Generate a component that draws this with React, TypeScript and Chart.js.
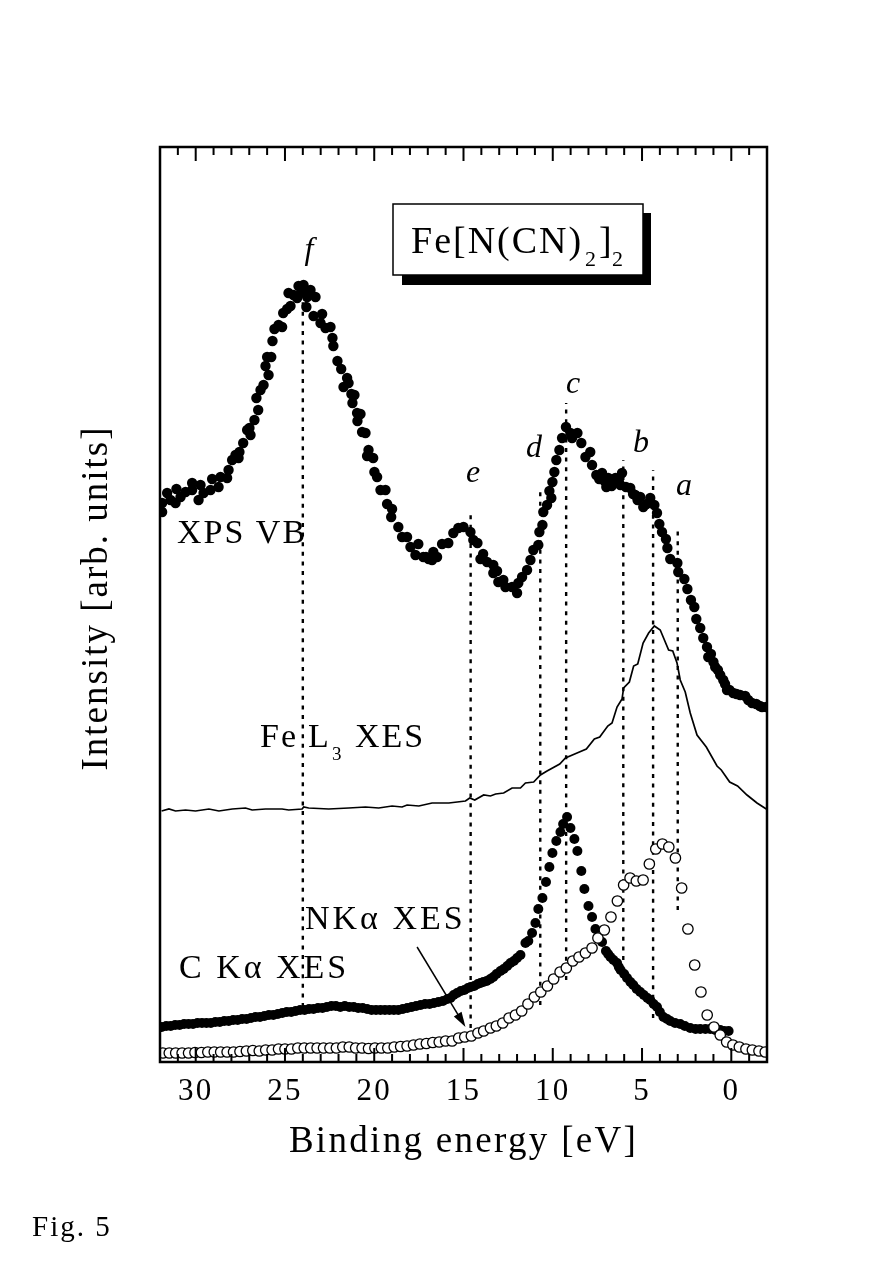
import React, { useEffect, useRef } from 'react';
import { Chart, registerables } from 'chart.js';

Chart.register(...registerables);

const SERIF = '"Liberation Serif", serif';

// XPS valence band, solid dots
const xpsEnergy = [
  31.88, 31.88, 31.6, 31.41, 31.13, 31.08, 30.85, 30.57, 30.2, 30.2, 29.84, 29.73, 29.56, 29.17, 29.08, 28.72, 28.61, 28.24, 28.16, 27.96,
  27.77, 27.6, 27.55, 27.34, 27.12, 26.93, 26.99, 26.71, 26.5, 26.6, 26.37, 26.2, 25.92, 26.09, 26.0, 25.77, 25.7, 25.59, 25.36, 25.16,
  25.1, 24.88, 24.69, 24.8, 24.52, 24.32, 24.24, 23.96, 24.04, 23.76, 23.57, 23.29, 23.8, 23.4, 22.92, 23.01, 22.73, 22.45, 22.34, 22.29,
  22.06, 21.85, 21.52, 21.44, 21.72, 21.28, 21.11, 21.22, 20.96, 20.77, 20.94, 20.68, 20.49, 20.32, 20.4, 20.06, 19.99, 19.84, 19.65, 19.37,
  19.28, 19.0, 19.05, 18.65, 18.44, 18.16, 17.97, 17.53, 17.69, 17.25, 16.76, 16.48, 16.69, 16.2, 15.85, 15.57, 15.29, 15.0, 14.61, 14.45,
  14.22, 13.9, 14.05, 13.68, 13.33, 13.12, 13.33, 13.05, 12.77, 12.65, 12.28, 12.0, 11.93, 11.72, 11.44, 11.25, 11.09, 10.81, 10.75, 10.58,
  10.53, 10.32, 10.08, 10.19, 10.02, 9.91, 9.8, 9.63, 9.48, 9.26, 9.01, 8.92, 8.62, 8.4, 7.9, 8.17, 7.8, 7.56, 7.24, 7.0,
  6.89, 6.49, 6.12, 6.21, 5.66, 5.38, 5.1, 4.93, 4.54, 4.31, 4.16, 4.03, 3.88, 3.66, 3.58, 3.42, 3.02, 2.97, 2.63, 2.46,
  2.26, 2.07, 1.96, 1.74, 1.57, 1.36, 1.14, 1.29, 0.9, 0.62, 0.45, 0.24, -0.11, -0.78, -1.16, -1.72, -1.96,
  7.4, 7.1, 6.7, 6.3, 5.9, 5.5, 5.25, 4.75, 1.0, 0.75, 0.35, 0.1, -0.3, -0.5, -0.95, -1.4, -1.6, 17.1, 16.95,
];
const xpsIntensity = [
  550, 559, 569, 562, 559, 573, 565, 570, 579, 572, 562, 577, 569, 572, 583, 575, 585, 584, 592, 602,
  607, 604, 610, 619, 632, 627, 634, 642, 652, 664, 672, 677, 687, 696, 705, 705, 721, 733, 737, 735,
  749, 753, 756, 769, 767, 764, 776, 777, 770, 765, 772, 765, 755, 746, 748, 739, 734, 735, 724, 716,
  701, 693, 684, 679, 675, 668, 667, 659, 649, 648, 641, 630, 629, 612, 606, 604, 590, 585, 572, 572,
  558, 553, 545, 535, 525, 525, 515, 518, 507, 505, 502, 505, 510, 518, 519, 529, 534, 535, 530, 522,
  519, 508, 503, 500, 497, 491, 489, 480, 482, 475, 475, 469, 479, 485, 492, 502, 512, 517, 530, 537,
  550, 557, 564, 571, 580, 590, 602, 612, 624, 635, 629, 624, 629, 619, 610, 605, 597, 587, 589, 575,
  584, 584, 589, 577, 574, 567, 565, 555, 564, 557, 549, 538, 530, 523, 514, 503, 499, 490, 483, 473,
  462, 455, 443, 434, 424, 415, 408, 405, 395, 387, 382, 372, 369, 366, 359, 355, 355,
  583, 581, 576, 582, 575, 568, 562, 558, 400, 392, 378, 372, 368, 367, 362, 358, 356, 505, 503,
];

// Fe L3 XES, thin line
const feEnergy = [
  31.91, 31.5, 31.13, 30.57, 30.01, 29.26, 28.7, 27.95, 27.21, 26.84, 26.09, 25.16, 24.79, 24.04, 23.95, 23.67, 22.55, 21.43, 20.49, 19.75,
  19.0, 18.44, 18.16, 17.5, 16.76, 15.82, 14.89, 14.65, 14.37, 13.87, 13.49, 13.2, 12.75, 12.28, 11.81, 11.53, 11.07, 10.69, 10.32, 9.61,
  9.29, 8.64, 8.12, 7.67, 7.37, 6.92, 6.68, 6.4, 6.12, 6.03, 5.71, 5.47, 5.24, 4.94, 4.63, 4.31, 3.98, 3.51, 3.28, 3.04,
  2.86, 2.58, 2.3, 1.92, 1.4, 0.8, 0.56, 0.09, -0.35, -0.88, -1.44, -1.96,
];
const feIntensity = [
  251, 253, 251, 252, 251, 253, 251, 253, 254, 252, 253, 253, 252, 253, 255, 254, 253, 254, 255, 254,
  256, 255, 257, 256, 259, 259, 261, 264, 262, 267, 266, 268, 269, 274, 274, 279, 280, 287, 291, 298,
  304, 309, 313, 323, 325, 336, 339, 355, 363, 374, 380, 396, 398, 419, 429, 436, 432, 412, 411, 399,
  382, 370, 349, 327, 315, 296, 292, 280, 276, 267, 259, 253,
];

// C K-alpha XES, solid dots
const cEnergy = [
  31.9, 31.65, 31.4, 31.15, 30.9, 30.65, 30.4, 30.15, 29.9, 29.65, 29.4, 29.15, 28.9, 28.65, 28.4, 28.15, 27.9, 27.65, 27.4, 27.15,
  26.9, 26.65, 26.4, 26.15, 25.9, 25.65, 25.4, 25.15, 24.9, 24.65, 24.4, 24.15, 23.9, 23.65, 23.4, 23.15, 22.9, 22.65, 22.4, 22.15,
  21.9, 21.65, 21.4, 21.15, 20.9, 20.65, 20.4, 20.15, 19.9, 19.65, 19.4, 19.15, 18.9, 18.65, 18.4, 18.15, 17.9, 17.65, 17.4, 17.15,
  16.9, 16.65, 16.4, 16.15, 15.9, 15.73, 15.55, 15.36, 15.15, 14.95, 14.75, 14.6, 14.4, 14.2, 14.05, 13.89, 13.7, 13.5, 13.33, 13.15,
  12.93, 12.75, 12.55, 12.37, 12.18, 12.0, 11.81, 11.53, 11.37, 11.16, 10.97, 10.81, 10.58, 10.38, 10.19, 10.02, 9.8, 9.57, 9.42, 9.2,
  9.01, 8.79, 8.62, 8.4, 8.23, 8.0, 7.8, 7.61, 7.24, 7.02, 6.9, 6.77, 6.6, 6.4, 6.3, 6.2, 6.0, 5.84, 5.65, 5.49,
  5.3, 5.1, 4.9, 4.7, 4.54, 4.35, 4.16, 4.0, 3.8, 3.6, 3.42, 3.15, 2.86, 2.6, 2.3, 2.0, 1.74, 1.45, 1.18, 0.9,
  0.62, 0.4, 0.15,
];
const cIntensity = [
  35, 36, 36, 37, 37, 38, 38, 38, 39, 39, 39, 39, 40, 40, 41, 41, 42, 42, 43, 43,
  44, 45, 45, 46, 47, 47, 48, 49, 50, 50, 51, 52, 52, 53, 53, 54, 54, 55, 56, 56,
  55, 56, 55, 55, 54, 54, 53, 52, 52, 52, 52, 52, 52, 52, 53, 54, 55, 56, 57, 58,
  58, 59, 60, 61, 63, 64, 67, 69, 71, 72, 74, 75, 76, 78, 79, 80, 81, 83, 85, 88,
  91, 93, 96, 99, 101, 104, 107, 119, 121, 129, 139, 153, 164, 180, 195, 209, 221, 230, 238, 245,
  234, 223, 211, 191, 173, 156, 145, 133, 120, 111, 108, 105, 102, 99, 95, 92, 88, 84, 80, 77,
  73, 70, 67, 64, 62, 58, 55, 50, 45, 43, 41, 39, 38, 36, 34, 33, 33, 33, 33, 32,
  32, 31, 31,
];

// N K-alpha XES, open circles
const nEnergy = [
  31.84, 31.48, 31.12, 30.76, 30.4, 30.04, 29.68, 29.32, 28.96, 28.6, 28.24, 27.88, 27.52, 27.16, 26.8, 26.44, 26.08, 25.72, 25.36, 25.0,
  24.64, 24.28, 23.92, 23.56, 23.2, 22.84, 22.48, 22.12, 21.76, 21.4, 21.04, 20.68, 20.32, 19.96, 19.6, 19.24, 18.88, 18.52, 18.16, 17.8,
  17.44, 17.08, 16.72, 16.36, 16.0, 15.64, 15.27, 14.93, 14.56, 14.19, 13.87, 13.49, 13.16, 12.8, 12.45, 12.09, 11.74, 11.39, 11.03, 10.67,
  10.3, 9.95, 9.59, 9.24, 8.88, 8.53, 8.17, 7.8, 7.47, 7.11, 6.74, 6.38, 6.03, 5.67, 5.32, 4.94, 4.59, 4.23, 3.86, 3.5,
  3.13, 2.78, 2.43, 2.05, 1.7, 1.35, 0.97, 0.62, 0.26, -0.09, -0.45, -0.82, -1.18, -1.55, -1.9,
];
const nIntensity = [
  9, 9, 9, 9, 9, 9.5, 9.5, 10, 10, 10, 10, 10, 10.5, 11, 11.5, 11, 12, 12, 13, 13,
  13, 14, 14, 14, 14, 14, 14, 14, 15, 15, 14, 14, 13.5, 14, 14, 14, 15, 15.5, 16, 17,
  18, 18.5, 19.5, 20, 21, 21, 24, 25, 26, 29, 31, 34, 36, 39, 44, 47, 51, 58, 65, 70,
  76, 83, 90, 94, 101, 105, 109, 114, 124, 132, 145, 161, 177, 184, 181, 182, 198, 213, 218, 215,
  204, 174, 133, 97, 70, 47, 35, 27, 20, 17, 15, 13, 12, 11, 10,
];

// dotted guides: binding energy, lower and upper end
const guideEnergy = [24.0, 14.6, 10.7, 9.25, 6.05, 4.38, 3.0];
const guideLow = [55, 34, 57, 82, 102, 44, 152];
const guideHigh = [772, 552, 575, 659, 602, 592, 536];

const guideDatasets = guideEnergy.map((e, i) => ({
  type: 'line' as const,
  data: [{ x: e, y: guideLow[i] }, { x: e, y: guideHigh[i] }],
  borderColor: '#000',
  borderWidth: 2.4,
  borderDash: [4, 5.6],
  pointRadius: 0,
  fill: false,
}));

// arrow from the N K-alpha label to its curve, binding energy / intensity
const arrowFrom = { x: 17.6, y: 115 };
const arrowTip = { x: 14.89, y: 35 };

const spacedText = (ctx: CanvasRenderingContext2D, text: string, x: number, y: number, font: string, spacing: number) => {
  ctx.font = font;
  (ctx as any).letterSpacing = `${spacing}px`;
  ctx.fillText(text, x, y);
};

const figurePlugin = {
  id: 'figureExtras',
  beforeDraw(chart: any) {
    // tick labels and the axis title are spaced out in the original
    chart.ctx.letterSpacing = '2.3px';
  },
  afterDatasetsDraw(chart: any) {
    const { ctx, chartArea: a, scales } = chart;
    const X = scales.x;
    ctx.save();
    ctx.strokeStyle = '#000';
    ctx.fillStyle = '#000';

    // tick marks on top and bottom, pointing inward
    ctx.lineWidth = 2;
    X.ticks.forEach((t: any) => {
      const px = X.getPixelForValue(t.value);
      const len = t.value % 5 === 0 ? 14 : 8;
      ctx.beginPath();
      ctx.moveTo(px, a.top);
      ctx.lineTo(px, a.top + len);
      ctx.moveTo(px, a.bottom);
      ctx.lineTo(px, a.bottom - len);
      ctx.stroke();
    });

    // frame
    ctx.lineWidth = 2.5;
    ctx.strokeRect(a.left, a.top, a.right - a.left, a.bottom - a.top);

    // arrow
    const x0 = X.getPixelForValue(arrowFrom.x);
    const y0 = scales.y.getPixelForValue(arrowFrom.y);
    const x1 = X.getPixelForValue(arrowTip.x);
    const y1 = scales.y.getPixelForValue(arrowTip.y);
    const ang = Math.atan2(y1 - y0, x1 - x0);
    ctx.lineWidth = 1.5;
    ctx.beginPath();
    ctx.moveTo(x0, y0);
    ctx.lineTo(x1 - 8 * Math.cos(ang), y1 - 8 * Math.sin(ang));
    ctx.stroke();
    ctx.beginPath();
    ctx.moveTo(x1, y1);
    ctx.lineTo(x1 - 15 * Math.cos(ang) + 4.5 * Math.sin(ang), y1 - 15 * Math.sin(ang) - 4.5 * Math.cos(ang));
    ctx.lineTo(x1 - 15 * Math.cos(ang) - 4.5 * Math.sin(ang), y1 - 15 * Math.sin(ang) + 4.5 * Math.cos(ang));
    ctx.closePath();
    ctx.fill();

    // compound box with hard shadow
    ctx.fillRect(402, 213, 249, 72);
    ctx.fillStyle = '#fff';
    ctx.fillRect(393, 204, 250, 71);
    ctx.lineWidth = 1.5;
    ctx.strokeRect(393, 204, 250, 71);
    ctx.fillStyle = '#000';

    ctx.textBaseline = 'alphabetic';
    ctx.textAlign = 'left';
    const big = `38px ${SERIF}`;
    const sub = `22px ${SERIF}`;
    spacedText(ctx, 'Fe[N(CN)', 411, 253, big, 2);
    spacedText(ctx, '2', 585, 266, sub, 0);
    spacedText(ctx, ']', 599, 253, big, 0);
    spacedText(ctx, '2', 612, 266, sub, 0);

    // curve labels
    const label = `34px ${SERIF}`;
    spacedText(ctx, 'XPS VB', 177, 543, label, 2);
    spacedText(ctx, 'Fe', 260, 747, label, 2);
    spacedText(ctx, 'L', 308, 747, label, 0);
    spacedText(ctx, '3', 332, 760, `19px ${SERIF}`, 0);
    spacedText(ctx, 'XES', 355, 747, label, 2);
    spacedText(ctx, 'C Kα XES', 179, 978, label, 3);
    spacedText(ctx, 'NKα XES', 305, 929, label, 3);
    spacedText(ctx, 'Fig. 5', 32, 1236, `29px ${SERIF}`, 2);

    // peak letters
    ctx.textAlign = 'center';
    const peak = `italic 32px ${SERIF}`;
    spacedText(ctx, 'f', 309, 259, peak, 0);
    spacedText(ctx, 'c', 573, 393, peak, 0);
    spacedText(ctx, 'd', 534, 457, peak, 0);
    spacedText(ctx, 'b', 641, 452, peak, 0);
    spacedText(ctx, 'e', 473, 482, peak, 0);
    spacedText(ctx, 'a', 684, 495, peak, 0);

    // y axis title
    ctx.translate(97, 598);
    ctx.rotate(-Math.PI / 2);
    ctx.textBaseline = 'middle';
    spacedText(ctx, 'Intensity [arb. units]', 0, 0, `37px ${SERIF}`, 2);
    ctx.restore();
  },
};

const toPoints = (xs: number[], ys: number[]) => xs.map((x, i) => ({ x, y: ys[i] }));

const FePlot: React.FC = () => {
  const canvasRef = useRef<HTMLCanvasElement>(null);

  useEffect(() => {
    if (!canvasRef.current) return;
    const chart = new Chart(canvasRef.current, {
      type: 'scatter',
      data: {
        datasets: [
          {
            label: 'N Ka XES',
            data: toPoints(nEnergy, nIntensity),
            showLine: false,
            pointRadius: 5.2,
            pointBackgroundColor: '#fff',
            pointBorderColor: '#000',
            pointBorderWidth: 1.3,
          },
          {
            label: 'C Ka XES',
            data: toPoints(cEnergy, cIntensity),
            showLine: false,
            pointRadius: 5,
            pointBackgroundColor: '#000',
            pointBorderWidth: 0,
          },
          {
            label: 'XPS VB',
            data: toPoints(xpsEnergy, xpsIntensity),
            showLine: false,
            pointRadius: 5.2,
            pointBackgroundColor: '#000',
            pointBorderWidth: 0,
          },
          {
            type: 'line',
            label: 'Fe L3 XES',
            data: toPoints(feEnergy, feIntensity),
            borderColor: '#000',
            borderWidth: 1.7,
            pointRadius: 0,
            tension: 0,
            fill: false,
          },
          ...guideDatasets,
        ] as any,
      },
      options: {
        responsive: false,
        animation: false,
        layout: { padding: { left: 0, top: 147, right: 124, bottom: 0 } },
        plugins: { legend: { display: false }, tooltip: { enabled: false } },
        scales: {
          x: {
            type: 'linear',
            reverse: true,
            min: -2,
            max: 32,
            afterFit: (scale: any) => { scale.height = 211; },
            grid: { display: false },
            border: { display: false },
            ticks: {
              stepSize: 1,
              autoSkip: false,
              maxRotation: 0,
              padding: 3,
              color: '#000',
              font: { family: SERIF, size: 31 },
              callback: (v: any) => (Number(v) % 5 === 0 ? String(v) : ''),
            },
            title: {
              display: true,
              text: 'Binding energy [eV]',
              color: '#000',
              font: { family: SERIF, size: 37 },
              padding: { top: 0, bottom: 109 },
            },
          },
          y: {
            type: 'linear',
            min: 0,
            max: 915,
            afterFit: (scale: any) => { scale.width = 160; },
            grid: { display: false },
            border: { display: false },
            ticks: { display: false },
          },
        },
      },
      plugins: [figurePlugin],
    });
    return () => chart.destroy();
  }, []);

  return (
    <canvas
      ref={canvasRef}
      width={891}
      height={1273}
      style={{ position: 'absolute', left: 0, top: 0, display: 'block' }}
      aria-label="XPS and XES spectra of Fe[N(CN)2]2"
      role="img"
    />
  );
};

export default function App() {
  return <FePlot />;
}
